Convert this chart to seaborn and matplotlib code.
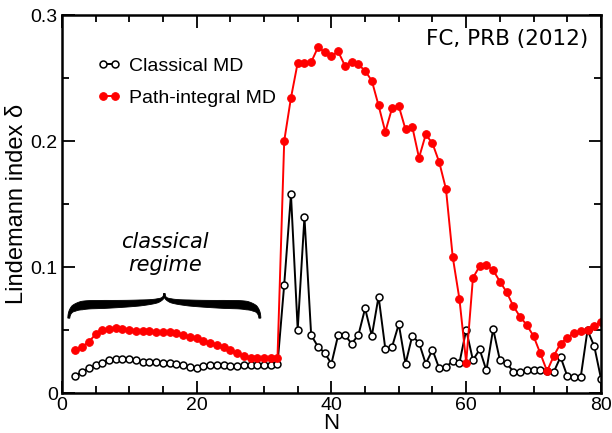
import numpy as np
import pandas as pd
import seaborn as sns
import matplotlib
matplotlib.use("Agg")
import matplotlib.pyplot as plt
from matplotlib.ticker import MultipleLocator

N = list(range(2, 81))
classical = [0.0138, 0.0169, 0.0196, 0.0222, 0.0243, 0.0262, 0.0275, 0.027, 0.0268, 0.026,
             0.025, 0.025, 0.0245, 0.0236, 0.0236, 0.023, 0.022, 0.021, 0.0196, 0.0217,
             0.022, 0.022, 0.022, 0.0217, 0.0217, 0.0222, 0.0222, 0.0222, 0.0222, 0.0222,
             0.0228,
             0.0862, 0.1577, 0.0505, 0.1397, 0.046, 0.037, 0.032, 0.0233, 0.046, 0.046,
             0.0394, 0.046, 0.0672, 0.0455, 0.0767, 0.0352, 0.0368, 0.0548, 0.0233, 0.0455,
             0.040, 0.0233, 0.0344, 0.0196, 0.0205, 0.0257, 0.0241, 0.0503, 0.0262, 0.0347,
             0.018, 0.051, 0.0262, 0.024, 0.0169, 0.0169, 0.0183, 0.018, 0.018, 0.0175,
             0.0169, 0.0288, 0.0135, 0.013, 0.013, 0.050, 0.0373, 0.0116]
path_integral = [0.0341, 0.0368, 0.0407, 0.0466, 0.050, 0.0508, 0.0516, 0.051, 0.0505, 0.0492,
                 0.049, 0.049, 0.0485, 0.0485, 0.0485, 0.0474, 0.046, 0.0447, 0.0434, 0.0415,
                 0.040, 0.0384, 0.0365, 0.034, 0.0315, 0.0292, 0.0278, 0.0278, 0.0278, 0.0278,
                 0.0278,
                 0.2002, 0.2344, 0.2622, 0.2622, 0.2627, 0.2744, 0.2709, 0.2675, 0.2712, 0.260,
                 0.2632, 0.2609, 0.2558, 0.2479, 0.2283, 0.2074, 0.2262, 0.2278, 0.2093, 0.2114,
                 0.1868, 0.2053, 0.1982, 0.1833, 0.1620, 0.1082, 0.0746, 0.0243, 0.0915, 0.1008,
                 0.1016, 0.0976, 0.0886, 0.0802, 0.069, 0.0606, 0.054, 0.0452, 0.0315, 0.0175,
                 0.0296, 0.0394, 0.0439, 0.0479, 0.0492, 0.0505, 0.0534, 0.0566]
series_labels = ["Classical MD", "Path-integral MD"]
x_ticks = [0, 20, 40, 60, 80]
y_ticks = [0, 0.1, 0.2, 0.3]
y_ticklabels = ["0", "0.1", "0.2", "0.3"]

sns.set_style("ticks")
plt.rcParams["font.family"] = ["Liberation Sans", "DejaVu Sans"]
for k in ["text.color", "axes.labelcolor", "xtick.color", "ytick.color", "axes.edgecolor"]:
    plt.rcParams[k] = "black"

df = pd.DataFrame({"N": N, "classical": classical, "pimd": path_integral})

fig = plt.figure(figsize=(6.12, 4.33), dpi=100)
ax = fig.add_axes([0.101, 0.092, 0.881, 0.873])

sns.lineplot(data=df, x="N", y="classical", ax=ax, color="black", lw=1.4,
             marker="o", markersize=5, markerfacecolor="white", markeredgecolor="black",
             markeredgewidth=1.1, label=series_labels[0])
sns.lineplot(data=df, x="N", y="pimd", ax=ax, color="red", lw=1.4,
             marker="o", markersize=5.5, markerfacecolor="red", markeredgecolor="red",
             label=series_labels[1])

ax.set_xlim(0, 80)
ax.set_ylim(0, 0.3)
ax.set_xticks(x_ticks)
ax.set_xticklabels([str(t) for t in x_ticks])
ax.set_yticks(y_ticks)
ax.set_yticklabels(y_ticklabels)
ax.xaxis.set_minor_locator(MultipleLocator(5))
ax.yaxis.set_minor_locator(MultipleLocator(0.05))
ax.tick_params(which="both", direction="in", top=True, right=True, width=1.3, labelsize=14, pad=3)
ax.tick_params(which="major", length=9)
ax.tick_params(which="minor", length=5)
for s in ax.spines.values():
    s.set_linewidth(1.8)
    s.set_visible(True)

ax.set_xlabel("N", fontsize=16, labelpad=-1)
ax.set_ylabel("Lindemann index δ", fontsize=17, labelpad=2)

leg = ax.legend(loc="upper left", bbox_to_anchor=(0.034, 0.935), frameon=False, fontsize=14,
                handlelength=1.2, handletextpad=0.4, labelspacing=0.75, numpoints=2)

ax.text(0.976, 0.937, "FC, PRB (2012)", transform=ax.transAxes, ha="right", va="center",
        fontsize=15.5, family="DejaVu Sans")
ax.text(15.3, 0.111, "classical\nregime", ha="center", va="center", fontsize=15,
        family="DejaVu Sans", style="italic", linespacing=1.15)


# curly brace drawn as a filled tapered stroke (pixel-like layout converted to data units)
def bez(p0, p1, p2, p3, n=60):
    t = np.linspace(0, 1, n)[:, None]
    p0, p1, p2, p3 = map(np.array, (p0, p1, p2, p3))
    return (1 - t) ** 3 * p0 + 3 * (1 - t) ** 2 * t * p1 + 3 * (1 - t) * t ** 2 * p2 + t ** 3 * p3


center = np.vstack([
    bez((69, 318), (69.5, 308), (77, 305), (92, 304.5)),
    bez((92, 304.5), (120, 304), (150, 303), (158, 300.5))[1:],
    bez((158, 300.5), (163, 299), (164.5, 297), (164.5, 293.5))[1:],
])
w = np.interp(center[:, 0], [69, 74, 82, 105, 140, 158, 164.5], [2.0, 6.5, 8.5, 8.0, 6.0, 4.0, 1.5])
tan = np.gradient(center, axis=0)
tan /= np.linalg.norm(tan, axis=1)[:, None]
nrm = np.column_stack([-tan[:, 1], tan[:, 0]])
upper = center + nrm * w[:, None] / 2
lower = center - nrm * w[:, None] / 2
poly_left = np.vstack([upper, lower[::-1]])
poly_right = poly_left.copy()
poly_right[:, 0] = 329 - poly_right[:, 0]
for poly in (poly_left, poly_right):
    xd = (poly[:, 0] - 62) / 6.7375
    yd = (393 - poly[:, 1]) / 1260
    ax.fill(xd, yd, color="black", lw=0.6, edgecolor="black")

fig.savefig("out.png", dpi=100)
